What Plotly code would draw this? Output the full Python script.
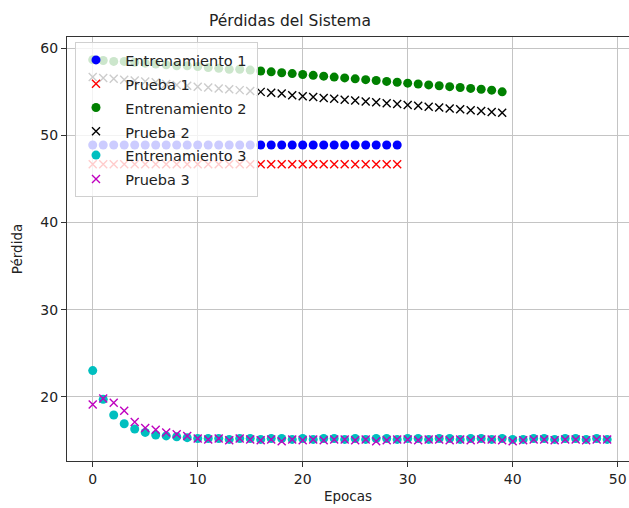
import plotly.graph_objects as go

# ---------------- data ----------------
epocas_1 = list(range(30))
entrenamiento_1 = [48.9] * 30
prueba_1 = [46.7] * 30

epocas_2 = list(range(40))
entrenamiento_2 = [58.7, 58.6, 58.5, 58.5, 58.4, 58.3, 58.2, 58.1, 58.0, 58.0,
                   57.9, 57.8, 57.7, 57.6, 57.6, 57.5, 57.4, 57.3, 57.2, 57.1,
                   57.0, 56.9, 56.8, 56.7, 56.6, 56.5, 56.4, 56.3, 56.2, 56.1,
                   56.0, 55.9, 55.8, 55.7, 55.6, 55.5, 55.4, 55.3, 55.2, 55.0]
prueba_2 = [56.7, 56.6, 56.5, 56.4, 56.3, 56.2, 56.1, 55.9, 55.8, 55.7,
            55.6, 55.5, 55.4, 55.3, 55.2, 55.1, 55.0, 54.9, 54.8, 54.6,
            54.5, 54.4, 54.3, 54.2, 54.1, 54.0, 53.9, 53.8, 53.7, 53.6,
            53.5, 53.4, 53.3, 53.2, 53.1, 53.0, 52.9, 52.8, 52.7, 52.6]

epocas_3 = list(range(50))
entrenamiento_3 = [23.0, 19.7, 17.9, 16.9, 16.3, 15.9, 15.6, 15.5, 15.4, 15.3,
                   15.2, 15.2, 15.2, 15.1, 15.2, 15.2, 15.1, 15.2, 15.2, 15.1,
                   15.2, 15.1, 15.2, 15.2, 15.1, 15.2, 15.1, 15.2, 15.2, 15.1,
                   15.2, 15.2, 15.1, 15.2, 15.2, 15.1, 15.2, 15.2, 15.1, 15.2,
                   15.1, 15.1, 15.2, 15.2, 15.1, 15.2, 15.2, 15.1, 15.2, 15.1]
prueba_3 = [19.1, 19.8, 19.3, 18.4, 17.1, 16.4, 16.2, 15.9, 15.7, 15.5,
            15.2, 15.1, 15.2, 15.0, 15.2, 15.1, 15.0, 15.1, 14.9, 15.1,
            15.0, 15.1, 15.0, 15.1, 15.1, 15.0, 15.1, 14.9, 15.0, 15.1,
            15.1, 15.0, 15.1, 15.1, 15.0, 15.1, 15.0, 15.1, 15.1, 15.0,
            14.9, 15.0, 15.1, 15.1, 15.0, 15.1, 15.1, 15.0, 15.1, 15.1]

nombres = ["Entrenamiento 1", "Prueba 1", "Entrenamiento 2", "Prueba 2",
           "Entrenamiento 3", "Prueba 3"]
colores = ["#0000ff", "#ff0000", "#008000", "#000000", "#00bfbf", "#bf00bf"]

x_ticks = [0, 10, 20, 30, 40, 50]
y_ticks = [20, 30, 40, 50, 60]

titulo = "Pérdidas del Sistema"
x_label = "Epocas"
y_label = "Pérdida"

# ---------------- figure ----------------
FONT = "DejaVu Sans"
series = [
    (epocas_1, entrenamiento_1, "circle"),
    (epocas_1, prueba_1, "x"),
    (epocas_2, entrenamiento_2, "circle"),
    (epocas_2, prueba_2, "x"),
    (epocas_3, entrenamiento_3, "circle"),
    (epocas_3, prueba_3, "x"),
]

fig = go.Figure()
for (xs, ys, kind), name, col in zip(series, nombres, colores):
    if kind == "circle":
        marker = dict(symbol="circle", size=9, color=col)
    else:
        marker = dict(symbol="x-thin", size=8, color=col,
                      line=dict(width=1.4, color=col))
    fig.add_trace(go.Scatter(
        x=xs, y=ys, mode="markers", marker=marker,
        name=f"<span style='font-size:14.5px'>\u00a0\u00a0{name}\u00a0</span>",
    ))

axis_common = dict(
    automargin=False,
    showgrid=True, gridcolor="#c4c4c4", gridwidth=1,
    showline=True, linecolor="#333333", linewidth=1.2, mirror=True,
    ticks="outside", ticklen=5, tickcolor="#333333",
    tickfont=dict(family=FONT, size=14, color="#222222"),
    zeroline=False,
)

fig.update_layout(
    width=629, height=508,
    margin=dict(l=67, r=0, t=37, b=47),
    paper_bgcolor="white", plot_bgcolor="white",
    font=dict(family=FONT, color="#222222"),
    title=dict(text=titulo, xref="container", x=290 / 629, xanchor="center",
               yref="container", y=1 - 21 / 508, yanchor="middle",
               font=dict(family=FONT, size=15.5, color="#222222")),
    xaxis=dict(range=[-2.45, 51.08], tickvals=x_ticks,
               title=dict(text=x_label, standoff=5,
                          font=dict(family=FONT, size=13.5, color="#222222")),
               **axis_common),
    yaxis=dict(range=[12.62, 61.3], tickvals=y_ticks,
               title=dict(text=y_label, standoff=14,
                          font=dict(family=FONT, size=13.5, color="#222222")),
               **axis_common),
    legend=dict(x=(75 - 67) / 562, y=(461 - 42) / 424, xanchor="left", yanchor="top",
                bgcolor="rgba(255,255,255,0.8)", bordercolor="#d0d0d0", borderwidth=1,
                font=dict(family=FONT, size=16, color="#222222")),
    showlegend=True,
)

fig.write_html("out.html", config=dict(displayModeBar=False),
               post_script="document.body.style.margin='0px';"
                           "document.body.style.overflow='hidden';")
